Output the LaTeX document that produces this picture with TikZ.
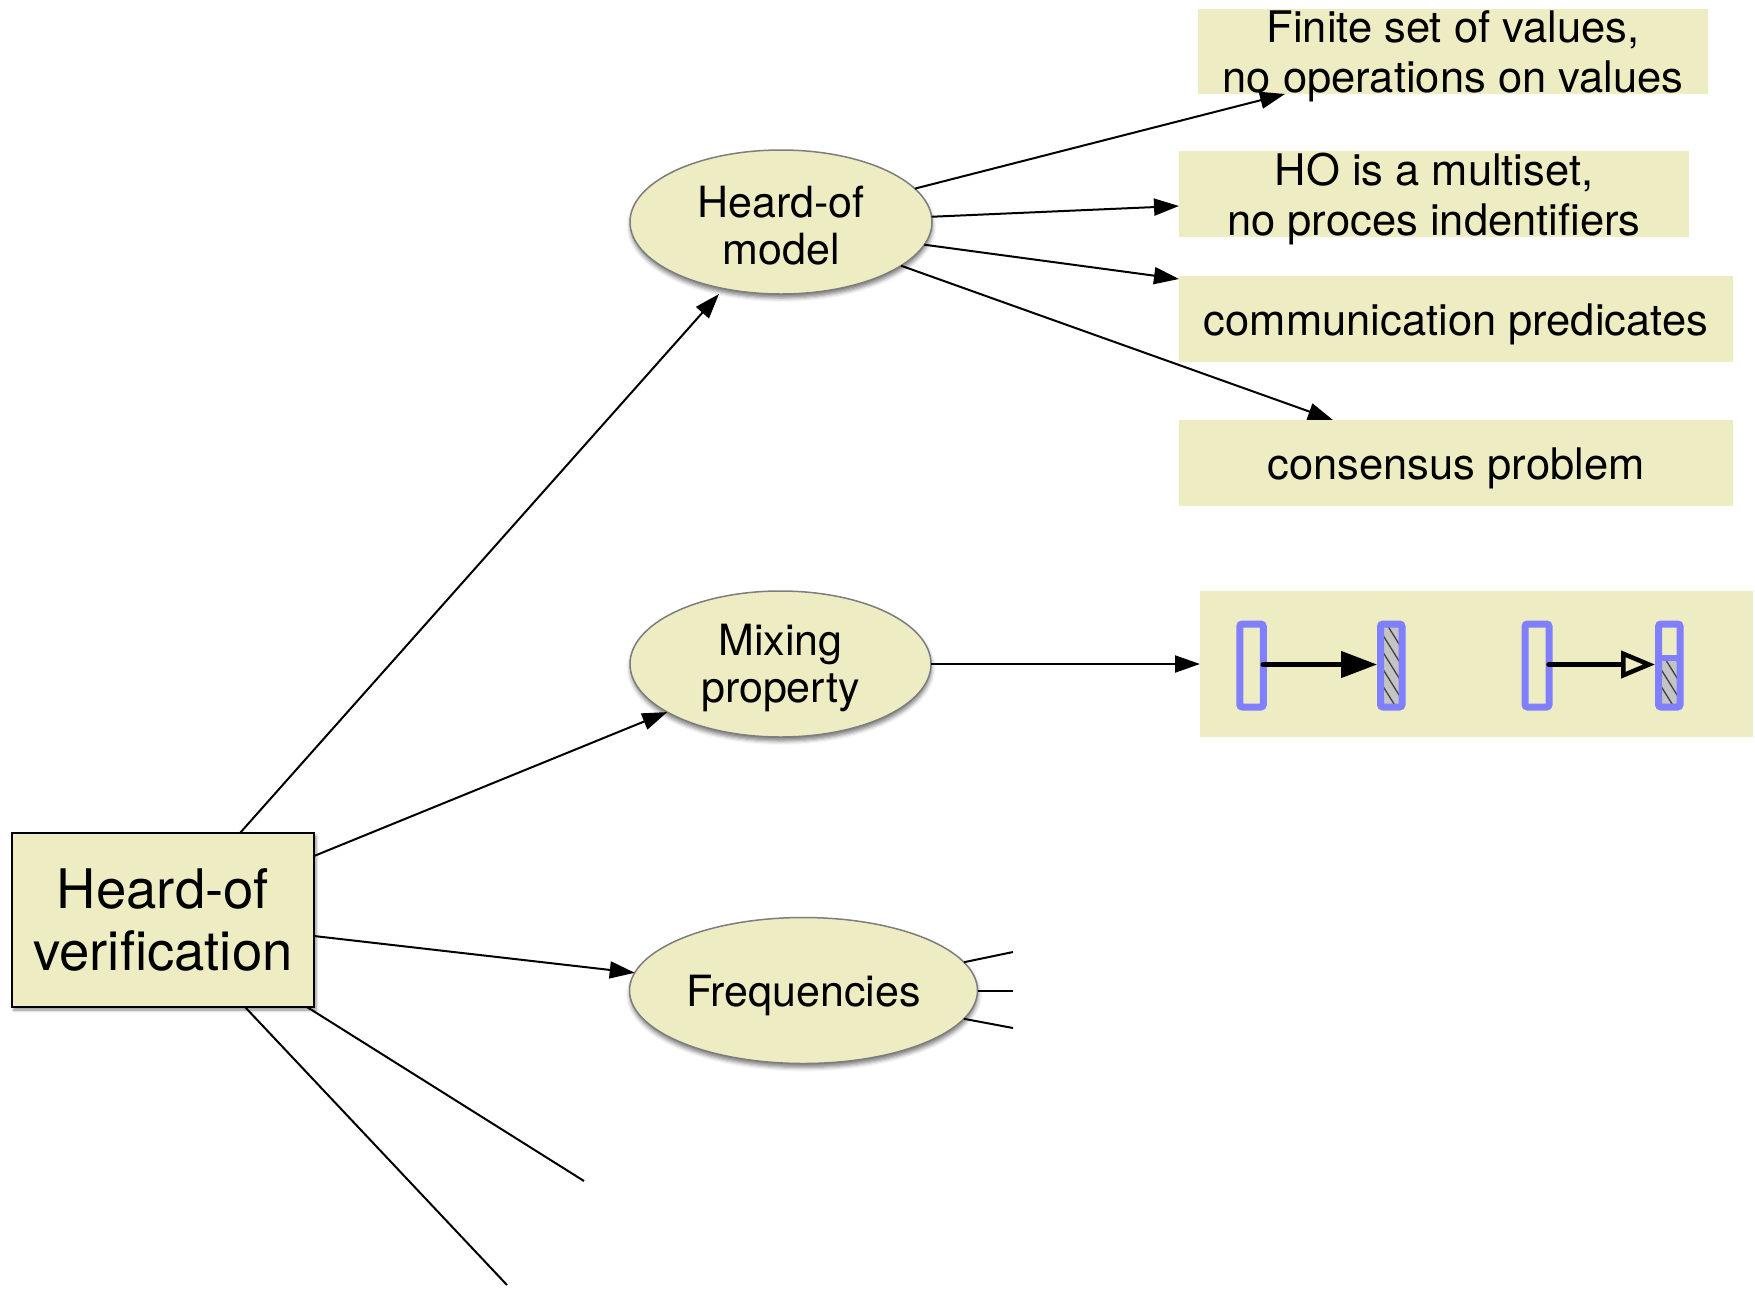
\documentclass[tikz,border=0pt]{standalone}
\usepackage{fontspec}
\setmainfont{TeX Gyre Heros}
\usetikzlibrary{arrows.meta,calc,shapes.geometric,shadows.blur}
\definecolor{paleyellow}{RGB}{238,236,194}
\definecolor{barblue}{RGB}{128,128,255}
\definecolor{hatchgrey}{RGB}{196,196,196}
\definecolor{rimgrey}{RGB}{125,125,125}

\begin{document}
\begin{tikzpicture}[x=1pt,y=-1pt,
  topic/.style={ellipse, draw=rimgrey, line width=1.5pt, fill=paleyellow,
    inner sep=0pt, outer sep=0pt,
    blur shadow={shadow xshift=0.5pt, shadow yshift=-4pt,
      shadow blur radius=4pt, shadow opacity=50}},
  topictext/.style={inner sep=0pt, align=center, font=\fontsize{43}{47}\selectfont},
  note/.style={rectangle, fill=paleyellow, inner sep=0pt, outer sep=0pt},
  notetext/.style={inner sep=0pt, align=center, font=\fontsize{43.5}{49.5}\selectfont},
  link/.style={line width=2pt, -{Triangle[length=25pt,width=17pt]}},
  stub/.style={line width=2pt},
  bar/.style={draw=barblue, line width=7pt, rounded corners=2.5pt,
    inner sep=0pt, minimum height=83pt},
  hatchlines/.style={line width=1.3pt, black!75},
]
\useasboundingbox (0,0) rectangle (1755,1288);

% root
\node[rectangle, draw=black, line width=2.5pt, fill=paleyellow,
  minimum width=302pt, minimum height=174pt, inner sep=0pt, outer sep=0pt,
  align=center, font=\fontsize{54.5}{62.5}\selectfont,
  blur shadow={shadow xshift=2pt, shadow yshift=-3pt,
    shadow blur radius=3pt, shadow opacity=45}]
  (root) at (163,920) {Heard-of\\verification};

% second level
\node[topic, minimum width=302pt, minimum height=144pt] (ho) at (781,222) {};
\node[topictext] (hot) at ($(ho.center)+(0,4)$) {Heard-of\\model};
\node[topic, minimum width=301pt, minimum height=146pt] (mix) at (780.5,664) {};
\node[topictext] (mixt) at ($(mix.center)+(0,4.5)$) {Mixing\\property};
\node[topic, minimum width=348pt, minimum height=146pt] (freq) at (803.5,990.5) {};
\node[topictext] (freqt) at ($(freq.center)+(0,4.5)$) {Frequencies};

% notes on the heard-of model
\node[note, minimum width=510pt, minimum height=85pt] (b1) at (1453,51.5) {};
\node[notetext] (t1) at ($(b1.center)+(0,5)$) {Finite set of values,\\no operations on values};
\node[note, minimum width=510pt, minimum height=86pt] (b2) at (1434,194) {};
\node[notetext] (t2) at ($(b2.center)+(0,5)$) {HO is a multiset,\\no proces indentifiers};
\node[note, minimum width=554pt, minimum height=86pt] (b3) at (1456,319) {};
\node[notetext] (t3) at ($(b3.center)+(0,5.5)$) {communication predicates};
\node[note, minimum width=554pt, minimum height=86pt] (b4) at (1456,463) {};
\node[notetext] (t4) at ($(b4.center)+(0,5.5)$) {consensus problem};

% mixing property sketch
\node[note, minimum width=553pt, minimum height=146pt] (b5) at (1476.5,664) {};

\node[bar, minimum width=23.5pt] (pa) at (1251.5,665.5) {};
\node[bar, minimum width=21.5pt,
  path picture={
    \fill[hatchgrey] (path picture bounding box.south west) rectangle
      (path picture bounding box.north east);
    \foreach \k in {-7,...,7}
      \draw[hatchlines] ($(path picture bounding box.center)+(-20,\k*17-32)$) -- ++(40,64);
  }] (pb) at (1391.25,665.5) {};
\node[bar, minimum width=24pt] (pc) at (1537,665.5) {};
\node[bar, minimum width=21.5pt,
  path picture={
    \fill[hatchgrey] ($(path picture bounding box.west)+(0,-7.5)$) rectangle
      (path picture bounding box.south east);
    \begin{scope}
      \clip ($(path picture bounding box.west)+(0,-7.5)$) rectangle
        (path picture bounding box.south east);
      \foreach \k in {-7,...,7}
        \draw[hatchlines] ($(path picture bounding box.center)+(-20,\k*17-32)$) -- ++(40,64);
    \end{scope}
    \draw[barblue, line width=6pt] ($(path picture bounding box.west)+(0,-7.5)$) --
      ($(path picture bounding box.east)+(0,-7.5)$);
  }] (pd) at (1669.25,665.5) {};

\draw[line width=4.5pt, line cap=round, -{Triangle[length=36pt,width=26pt]}]
  ($(pa.east)+(-4,-1)$) -- ($(pb.west)+(0,-1)$);
\draw[line width=4.5pt, line cap=round, -{Triangle[open,length=34pt,width=27pt]}]
  ($(pc.east)+(-4,-1)$) -- ($(pd.west)+(0,-1)$);

% connectors from the root
\draw[link] ($(root.north)+(77,0)$) -- ($(ho.south)+(-62,0)$);
\draw[link] ($(root.north east)+(0,23)$) -- (mix.203);
\draw[link] ($(root.east)+(0,16)$) -- (freq.174);
\coordinate (endA) at (584,1181);
\coordinate (endB) at (507,1285);
\draw[stub] ($(root.south east)+(-7,0)$) -- (endA);
\draw[stub] ($(root.south)+(82,0)$) -- (endB);

% connectors from the heard-of model
\draw[link] (ho.14) -- ($(b1.south west)+(87,0)$);
\draw[link] (ho.2) -- ($(b2.west)+(0,12)$);
\draw[link] (ho.-9) -- ($(b3.north west)+(0,3)$);
\draw[link] (ho.-20) -- ($(b4.north west)+(154,0)$);

% mixing property
\draw[link] (mix.east) -- (b5.west);

% frequencies
\coordinate (fq1) at (1013,952);
\coordinate (fq2) at (1013,990.5);
\coordinate (fq3) at (1013,1028);
\draw[stub] (freq.10) -- (fq1);
\draw[stub] (freq.east) -- (fq2);
\draw[stub] (freq.-10) -- (fq3);
\end{tikzpicture}
\end{document}
